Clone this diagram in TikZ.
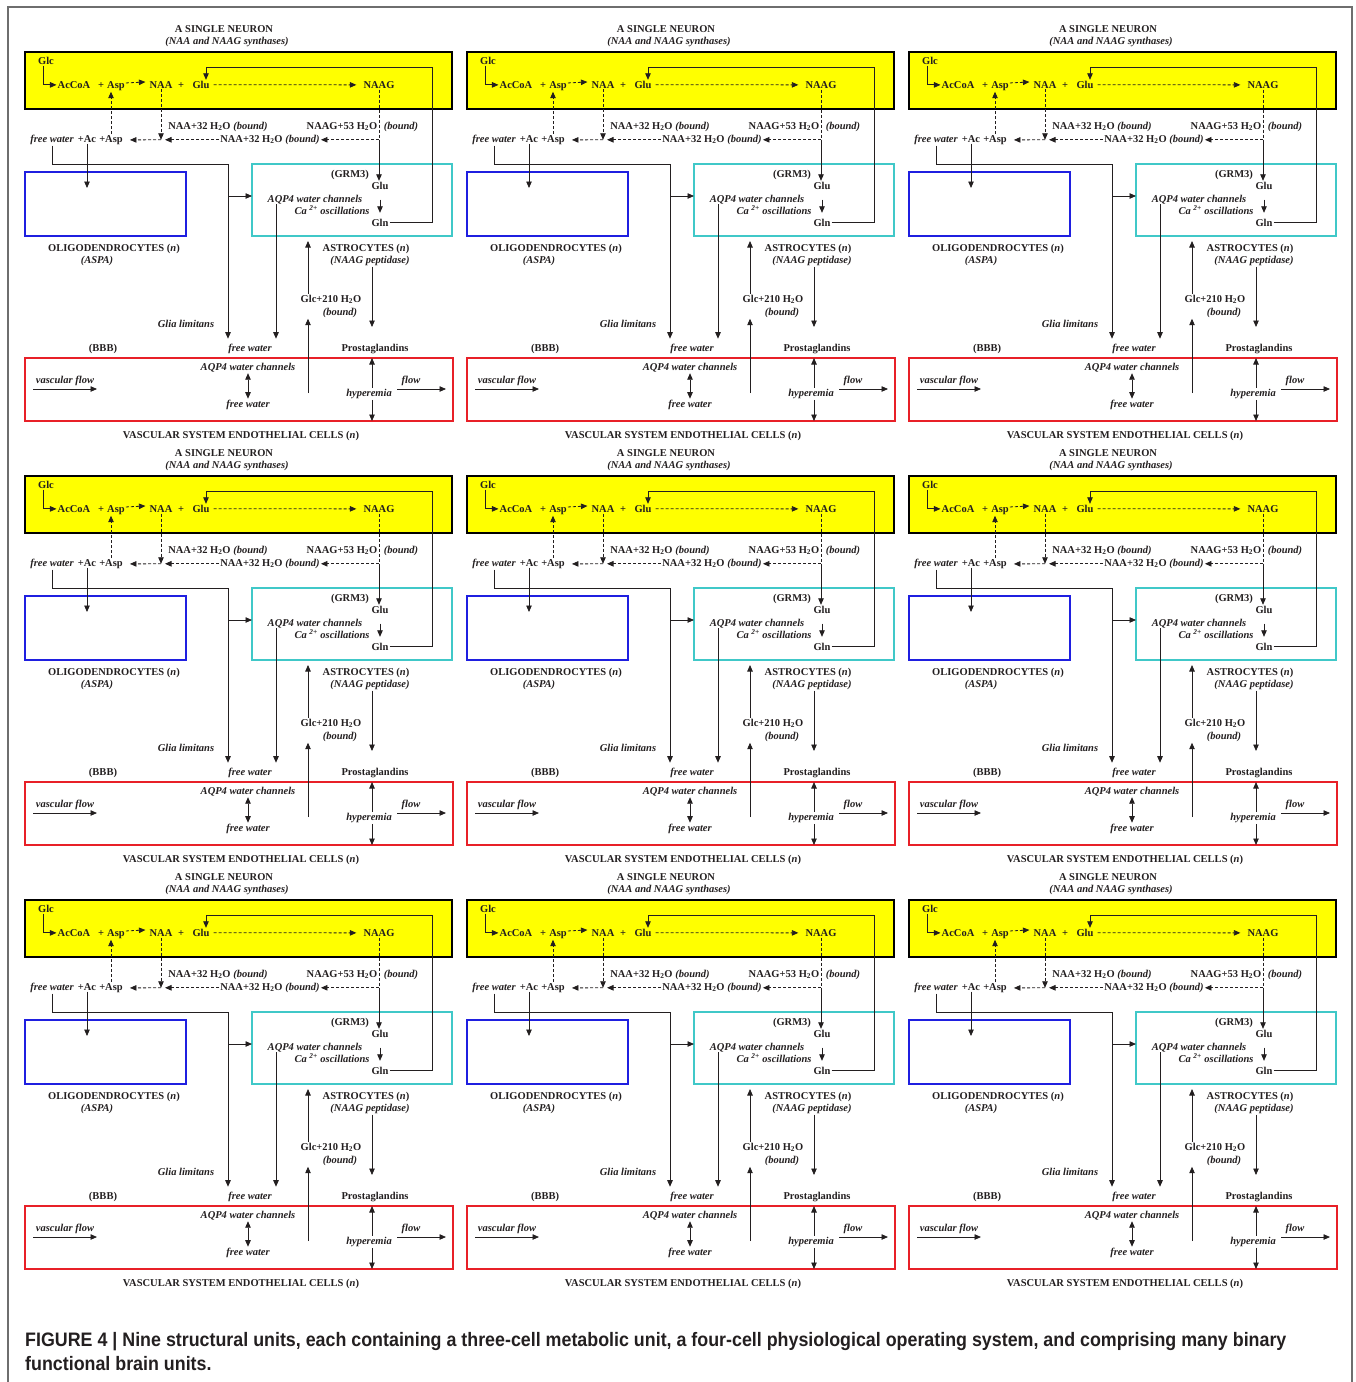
\documentclass[tikz,border=0pt]{standalone}
\usepackage{fontspec}
\setmainfont{Liberation Serif}
\newfontfamily\capfont[FakeStretch=0.915]{Liberation Sans}
\usetikzlibrary{arrows.meta}

\definecolor{neuronyellow}{HTML}{FFFF00}
\definecolor{oligoblue}{HTML}{1F1FE0}
\definecolor{astrocyan}{HTML}{40C8C8}
\definecolor{endored}{HTML}{E82028}
\definecolor{inkgray}{HTML}{231F20}
\definecolor{framegray}{HTML}{6E6E6E}

\begin{document}
\begin{tikzpicture}[x=1pt, y=-1pt,
    font=\fontsize{10.5}{12}\selectfont\bfseries,
    every node/.style={inner sep=1pt, anchor=mid, text=inkgray},
    it/.style={font=\fontsize{10.5}{12}\selectfont\bfseries\itshape},
    cellbox/.style={draw=#1, line width=2pt, inner sep=0pt, outer sep=0pt, anchor=north west},
    wire/.style={draw=inkgray, line width=0.8pt},
    arr/.style={wire, -{Triangle[length=6.5pt,width=5.5pt]}},
    darr/.style={arr, dash pattern=on 3pt off 2pt},
    dwire/.style={wire, dash pattern=on 3pt off 2pt},
    dblarr/.style={wire, {Triangle[length=6.5pt,width=5.5pt]}-{Triangle[length=6.5pt,width=5.5pt]}},
    capt/.style={anchor=base west, inner sep=0pt, font=\capfont\fontsize{19.5}{25}\selectfont\bfseries}
  ]
  \useasboundingbox (0,0) rectangle (1356,1382);
  \draw[framegray, line width=1.2pt] (8,1382) -- (8,7) -- (1352,7) -- (1352,1382);

  % nine structural units
  \foreach \row in {0,1,2} {
    \foreach \col in {0,1,2} {
      \begin{scope}[shift={(\col*442,\row*424)}, name prefix=u\row\col-]
        % cells
        \node[cellbox=black, fill=neuronyellow, minimum width=427pt, minimum height=57pt] (neuron) at (25,52) {};
        \node[cellbox=oligoblue, minimum width=161pt, minimum height=64pt] (oligo) at (25,172) {};
        \node[cellbox=astrocyan, minimum width=200pt, minimum height=72pt] (astro) at (252,164) {};
        \node[cellbox=endored, minimum width=428pt, minimum height=63pt] (endo) at (25,358) {};

        % neuron
        \node (title) at (224,30) {A SINGLE NEURON};
        \node[it] (synth) at (227,42) {(NAA and NAAG synthases)};
        \node (glc) at (46,62) {Glc};
        \node (accoa) at (74,86) {AcCoA};
        \node (plusA) at (101,86) {+};
        \node (asp) at (116,86) {Asp};
        \node (naa) at (161,86) {NAA};
        \node (plusB) at (181,86) {+};
        \node (glu) at (201,86) {Glu};
        \node (naag) at (379,86) {NAAG};

        % bound water
        \node (naaup) at (218,127) {NAA+32 H\textsubscript{2}O \textit{(bound)}};
        \node (naagup) at (342,127) {NAAG+53 H\textsubscript{2}O};
        \node[it] (naagbd) at (401,127) {(bound)};
        \node[it] (fw) at (52,140) {free water};
        \node (ac) at (87,140) {+Ac};
        \node (aspB) at (111,140) {+Asp};
        \node (naadn) at (270,140) {NAA+32 H\textsubscript{2}O \textit{(bound)}};

        % astrocyte
        \node (grm) at (350,175) {(GRM3)};
        \node (gluA) at (380,187) {Glu};
        \node (gln) at (380,224) {Gln};
        \node[it] (aqpA) at (315,200) {AQP4 water channels};
        \node[it] (ca) at (332,212) {Ca \textsuperscript{2+} oscillations};
        \node (oligoname) at (114,249) {OLIGODENDROCYTES (\textit{n})};
        \node[it] (aspa) at (97,261) {(ASPA)};
        \node (astroname) at (366,249) {ASTROCYTES (\textit{n})};
        \node[it] (pep) at (370,261) {(NAAG peptidase)};
        \node (glcw) at (331,300) {Glc+210 H\textsubscript{2}O};
        \node[it] (glcb) at (340,313) {(bound)};
        \node[it] (glia) at (186,325) {Glia limitans};

        % vascular system
        \node (bbb) at (103,349) {(BBB)};
        \node[it] (fwT) at (250,349) {free water};
        \node (prost) at (375,349) {Prostaglandins};
        \node[it] (aqpE) at (248,368) {AQP4 water channels};
        \node[it] (fwB) at (248,405) {free water};
        \node[it] (vflow) at (65,381) {vascular flow};
        \node[it] (hyp) at (369,394) {hyperemia};
        \node[it] (flow) at (411,381) {flow};
        \node (endoname) at (241,436) {VASCULAR SYSTEM ENDOTHELIAL CELLS (\textit{n})};

        \coordinate (loop) at (432,67);
        \coordinate (bend) at (228,164);
        \coordinate (branch) at (228,196);
        \coordinate (oligoin) at (89,188);
        \coordinate (aqpdrop) at (276,204);
        \coordinate (glcup) at (308,393);
        \coordinate (prostin) at (372,327);
        \coordinate (vfs) at (33,389);
        \coordinate (vfe) at (97,389);
        \coordinate (fls) at (397,389);
        \coordinate (fle) at (446,389);

        % connectors
        \draw[arr] ([xshift=-3pt]glc.south) |- (accoa.west);
        \draw[darr, shorten >=3pt] ([yshift=3pt]asp.east) -- ([yshift=3pt]naa.west);
        \draw[darr, shorten <=3pt, shorten >=6pt] (glu.east) -- (naag.west);
        \draw[arr] (gln.east) -| (loop) -| ([xshift=5pt]glu.north);
        \draw[darr] (aspB.north) -- (aspB.north |- asp.south);
        \draw[darr] (naa.south) -- (naa.south |- naadn.west) coordinate (jn);
        \draw[dwire] (naag.south) -- (naag.south |- naadn.east) coordinate (jr);
        \draw[darr] (jr) -- (naadn.east);
        \draw[darr] (naadn.west) -- ([xshift=4pt]jn);
        \draw[darr, shorten >=6pt] (jn) -- (aspB.east);
        \draw[arr] (jr) -- (jr |- gluA.north);
        \draw[wire] (fw.south) |- (bend);
        \draw[arr, shorten >=4pt] (bend) -- (bend |- fwT.north);
        \draw[arr] (branch) -- (branch -| astro.west);
        \draw[arr] (ac.south) -- (ac.south |- oligoin);
        \draw[arr] ([yshift=-9pt]gluA.south) -- ([yshift=5pt]gln.north);
        \draw[arr, shorten >=4pt] (aqpdrop) -- (aqpdrop |- fwT.north);
        \draw[arr] (glcup) -- (glcup |- glcb.south);
        \draw[arr, shorten >=5pt] (glcup |- glcw.north) -- (glcup |- astro.south);
        \draw[arr] (pep.south -| prostin) -- (prostin);
        \draw[arr] (hyp.north -| prostin) -- (prostin |- endo.north);
        \draw[arr] (hyp.south -| prostin) -- (prostin |- endo.south);
        \draw[dblarr] (aqpE.south) -- (fwB.north);
        \draw[arr] (vfs) -- (vfe);
        \draw[arr] (fls) -- (fle);
      \end{scope}
    }
  }

  % caption
  \node[capt] (caption1) at (25,1346) {FIGURE 4 | Nine structural units, each containing a three-cell metabolic unit, a four-cell physiological operating system, and comprising many binary};
  \node[capt] (caption2) at (25,1370) {functional brain units.};
\end{tikzpicture}
\end{document}
